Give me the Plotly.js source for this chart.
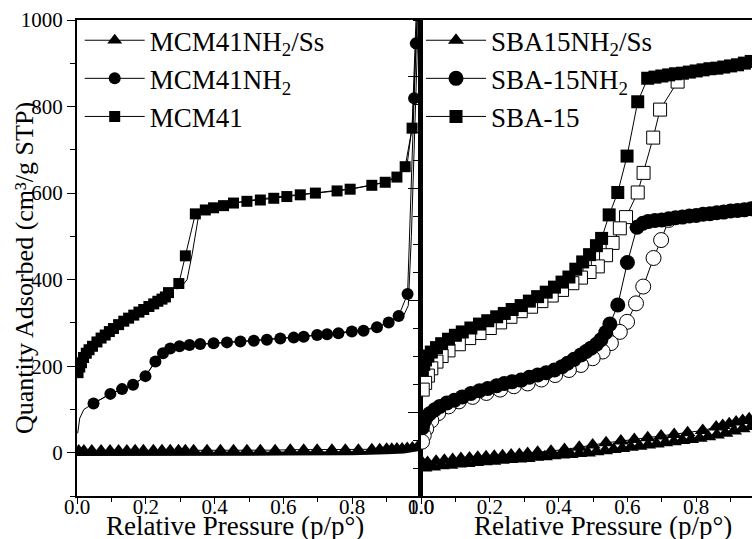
<!DOCTYPE html>
<html><head><meta charset="utf-8">
<script src="https://cdn.plot.ly/plotly-3.0.1.min.js"></script>
<style>html,body{margin:0;padding:0;background:#fff}#chart{width:752px;height:539px}</style>
</head><body><div id="chart"></div>
<script>
// ---------- Left panel: MCM41 series ----------
const mcmP = [0.003,0.008,0.013,0.019,0.027,0.035,0.045,0.058,0.07,0.082,0.094,0.106,0.121,0.136,0.15,0.165,0.18,0.194,0.209,0.223,0.235,0.247,0.257,0.266,0.296,0.315,0.344,0.373,0.397,0.426,0.455,0.494,0.533,0.572,0.61,0.649,0.693,0.756,0.794,0.857,0.896,0.93,0.954,0.974,0.99];
const mcmV = [185,198,208,220,230,238,246,256,265,272,280,287,296,304,311,318,325,331,338,344,350,355,360,370,391,455,552,561,566,571,577,581,584,588,592,596,600,605,609,618,625,637,661,750,1100];
const mcmDesP = [0.995,0.975,0.96,0.93,0.9,0.86,0.8,0.75,0.7,0.6,0.5,0.43,0.38,0.355,0.335,0.32,0.305,0.29];
const mcmDesV = [1100,760,668,640,626,619,610,606,601,593,583,573,563,555,460,400,385,378];

const nh2P = [0.048,0.097,0.131,0.163,0.199,0.228,0.25,0.271,0.298,0.327,0.358,0.397,0.436,0.475,0.514,0.552,0.591,0.63,0.659,0.698,0.727,0.76,0.799,0.833,0.872,0.906,0.935,0.961,0.98,0.985,0.995];
const nh2V = [114,136,147,157,177,211,230,241,246,249,251,253,255,257,259,261,264,266,268,272,274,276,280,282,290,301,316,367,819,946,1150];
const nh2DesP = [0.998,0.99,0.982,0.972,0.963,0.95,0.93,0.9,0.85,0.8,0.7,0.6,0.5,0.4,0.3,0.27,0.25,0.228,0.199,0.163,0.131,0.097,0.048,0.02,0.008,0.002];
const nh2DesV = [1150,950,760,500,340,318,311,298,287,281,272,265,258,253,246,240,230,211,177,157,147,136,114,100,80,45];

const ssP = [0.005,0.02,0.043,0.07,0.096,0.121,0.145,0.169,0.193,0.222,0.247,0.271,0.295,0.315,0.339,0.378,0.417,0.455,0.494,0.533,0.576,0.62,0.659,0.698,0.741,0.78,0.818,0.857,0.88,0.9,0.915,0.93,0.945,0.96,0.975,0.99,1.0];
const ssV = [5,5,5,5,5,5,5,6,6,6,6,6,6,6,6,6,6,6,6,6,6,7,7,7,7,7,7,8,8,9,9,10,10,11,12,14,15];
const ssDesP = [1.0,0.97,0.95,0.9,0.8,0.6,0.4,0.2,0.05,0.0];
const ssDesV = [9,5,3,1,-1,-2,-2,-3,-3,-3];

// ---------- Right panel: SBA-15 series ----------
const sbaP = [0.004,0.008,0.013,0.02,0.03,0.045,0.06,0.08,0.1,0.12,0.145,0.17,0.194,0.22,0.242,0.265,0.291,0.315,0.339,0.364,0.388,0.41,0.43,0.45,0.47,0.49,0.51,0.525,0.547,0.572,0.599,0.63,0.659,0.68,0.7,0.72,0.74,0.76,0.78,0.8,0.82,0.84,0.86,0.88,0.9,0.92,0.94,0.96];
const sbaV = [175,185,193,200,207,215,222,230,237,243,250,257,263,270,276,283,290,298,306,314,323,332,341,355,368,381,397,410,452,492,557,654,696,698,700,702,704,705,707,709,711,713,714,716,718,720,723,726];
const sbaDesP = [0.746,0.695,0.675,0.647,0.63,0.596,0.578,0.557,0.538,0.514,0.49,0.465,0.44,0.41,0.38,0.35,0.32,0.29,0.26,0.23,0.2,0.17,0.14,0.11,0.08,0.06,0.045,0.03,0.02,0.012,0.005];
const sbaDesV = [690,640,590,527,492,448,428,402,380,360,350,340,330,318,308,298,288,280,270,260,250,241,232,221,210,200,190,178,165,152,140];

const snP = [0.004,0.008,0.015,0.025,0.04,0.055,0.075,0.097,0.12,0.145,0.17,0.194,0.22,0.242,0.265,0.291,0.315,0.339,0.364,0.388,0.41,0.426,0.445,0.465,0.48,0.494,0.51,0.523,0.537,0.549,0.572,0.6,0.628,0.645,0.66,0.68,0.7,0.72,0.74,0.76,0.78,0.8,0.82,0.84,0.86,0.88,0.9,0.92,0.94,0.96];
const snV = [72,82,90,97,104,110,116,121,127,133,138,142,147,151,154,157,162,166,170,175,181,187,194,202,208,214,221,229,242,257,291,367,430,437,440,442,443,445,447,448,450,451,453,454,456,457,459,460,461,463];
const snDesP = [0.72,0.698,0.676,0.646,0.625,0.599,0.578,0.552,0.528,0.499,0.465,0.43,0.39,0.35,0.31,0.27,0.23,0.19,0.15,0.11,0.08,0.05,0.03,0.015,0.008,0.003];
const snDesV = [443,407,375,324,294,261,243,223,208,196,184,175,166,158,151,146,140,134,127,119,110,98,85,70,58,47];

const sbSsP = [0.005,0.019,0.044,0.068,0.092,0.116,0.141,0.165,0.189,0.213,0.237,0.262,0.286,0.31,0.339,0.378,0.417,0.46,0.499,0.538,0.581,0.62,0.659,0.698,0.736,0.775,0.819,0.858,0.877,0.896,0.916,0.935,0.954];
const sbSsV = [9,10,12,14,15,17,18,19,20,21,22,23,24,26,28,30,33,37,41,45,48,51,54,57,60,63,67,73,76,79,82,85,88];
const sbSsDesP = [0.96,0.935,0.91,0.885,0.86,0.835,0.81,0.785,0.76,0.735,0.71,0.685,0.66,0.635,0.61,0.585,0.56,0.535,0.51,0.485,0.46,0.435,0.41,0.385,0.36,0.335,0.31,0.285,0.26,0.235,0.21,0.185,0.16,0.135,0.11,0.085,0.06,0.035,0.01];
const sbSsDesV = [74,70,66,62,59,56,53,51,49,47,45,43,41,39,37,35,33,31,29,27,26,24,23,22,20,19,17,16,15,14,12,11,10,8,7,5,4,2,0];

// ---------- tick labels ----------
const xTickVals = [0,0.2,0.4,0.6,0.8,1.0];
const xTickText = ['0.0','0.2','0.4','0.6','0.8','1.0'];
const yTickVals = [0,200,400,600,800,1000];
const yTickText = ['0','200','400','600','800','1000'];

const names = {
  mcmSs: 'MCM41NH<sub>2</sub>/Ss', mcmNh2: 'MCM41NH<sub>2</sub>', mcm: 'MCM41',
  sbaSs: 'SBA15NH<sub>2</sub>/Ss', sbaNh2: 'SBA-15NH<sub>2</sub>', sba: 'SBA-15'
};

const FONT = '"Times New Roman", "Liberation Serif", "DejaVu Serif", serif';
const K = '#000';
const thin = {color: K, width: 1};

function filled(sym, size) { return {symbol: sym, size: size, color: K, line: {color: K, width: 0}}; }
function open(sym, size) { return {symbol: sym, size: size, color: '#fff', line: {color: K, width: 1}}; }

const traces = [
  // left panel
  {x: ssDesP, y: ssDesV, xaxis: 'x', yaxis: 'y', mode: 'lines', line: {color: K, width: 4}, showlegend: false, hoverinfo: 'skip'},
  {x: ssP, y: ssV, xaxis: 'x', yaxis: 'y', mode: 'lines+markers', line: thin, marker: filled('triangle-up', 13), name: names.mcmSs, legend: 'legend', legendrank: 1},
  {x: nh2DesP, y: nh2DesV, xaxis: 'x', yaxis: 'y', mode: 'lines', line: thin, showlegend: false, hoverinfo: 'skip'},
  {x: nh2P, y: nh2V, xaxis: 'x', yaxis: 'y', mode: 'lines+markers', line: thin, marker: filled('circle', 12), name: names.mcmNh2, legend: 'legend', legendrank: 2},
  {x: mcmDesP, y: mcmDesV, xaxis: 'x', yaxis: 'y', mode: 'lines', line: thin, showlegend: false, hoverinfo: 'skip'},
  {x: mcmP, y: mcmV, xaxis: 'x', yaxis: 'y', mode: 'lines+markers', line: thin, marker: filled('square', 11), name: names.mcm, legend: 'legend', legendrank: 3},
  // right panel
  {x: sbSsDesP, y: sbSsDesV, xaxis: 'x2', yaxis: 'y2', mode: 'lines+markers', line: thin, marker: filled('triangle-up', 14), showlegend: false, hoverinfo: 'skip'},
  {x: sbSsP, y: sbSsV, xaxis: 'x2', yaxis: 'y2', mode: 'lines+markers', line: thin, marker: filled('triangle-up', 14), name: names.sbaSs, legend: 'legend2', legendrank: 1},
  {x: snDesP, y: snDesV, xaxis: 'x2', yaxis: 'y2', mode: 'lines+markers', line: thin, marker: open('circle', 15), showlegend: false, hoverinfo: 'skip'},
  {x: snP, y: snV, xaxis: 'x2', yaxis: 'y2', mode: 'lines+markers', line: thin, marker: filled('circle', 15), name: names.sbaNh2, legend: 'legend2', legendrank: 2},
  {x: sbaDesP, y: sbaDesV, xaxis: 'x2', yaxis: 'y2', mode: 'lines+markers', line: thin, marker: open('square', 13), showlegend: false, hoverinfo: 'skip'},
  {x: sbaP, y: sbaV, xaxis: 'x2', yaxis: 'y2', mode: 'lines+markers', line: thin, marker: filled('square', 13), name: names.sba, legend: 'legend2', legendrank: 3}
];

const split = 344 / 675;
const tickFont = {family: FONT, size: 21, color: K};
const axBase = {showgrid: false, zeroline: false, showline: true, linecolor: K, linewidth: 2, ticks: 'outside', tickcolor: K, tickwidth: 1, tickfont: tickFont};

const legendBase = {font: {family: FONT, size: 27, color: K}, bgcolor: 'rgba(0,0,0,0)', borderwidth: 0, traceorder: 'normal', itemwidth: 60, tracegroupgap: 0, xanchor: 'left', yanchor: 'top', itemclick: false, itemdoubleclick: false};

const layout = {
  width: 752, height: 539,
  margin: {l: 77, r: 0, t: 20, b: 43, pad: 0},
  paper_bgcolor: '#fff', plot_bgcolor: '#fff',
  font: {family: FONT, color: K},
  xaxis: Object.assign({}, axBase, {domain: [0, split], range: [0, 1.0], tickvals: xTickVals, ticktext: xTickText, ticklen: 6, mirror: true, anchor: 'y', ticklabelstandoff: -15,
    minor: {dtick: 0.1, ticks: 'outside', ticklen: 4, tickcolor: K, tickwidth: 1, showgrid: false}}),
  yaxis: Object.assign({}, axBase, {range: [-100, 1000], tickvals: yTickVals, ticktext: yTickText, ticklen: 8, mirror: true, anchor: 'x',
    minor: {dtick: 100, tick0: 0, ticks: 'outside', ticklen: 5, tickcolor: K, tickwidth: 1, showgrid: false}}),
  xaxis2: Object.assign({}, axBase, {domain: [split, 1], range: [0, 331 / 344], tickvals: xTickVals, ticktext: xTickText, ticklen: 4, mirror: true, anchor: 'y2', ticklabelstandoff: -13,
    minor: {dtick: 0.1, ticks: 'outside', ticklen: 4, tickcolor: K, tickwidth: 1, showgrid: false}}),
  yaxis2: Object.assign({}, axBase, {range: [-50, 800], tick0: 100, dtick: 200, ticklen: 10, showticklabels: false, mirror: false, anchor: 'x2', linewidth: 3,
    minor: {dtick: 50, tick0: 0, ticks: 'outside', ticklen: 5, tickcolor: K, tickwidth: 1, showgrid: false}}),
  legend: Object.assign({}, legendBase, {x: 0.004, y: 1.008}),
  legend2: Object.assign({}, legendBase, {x: split, y: 1.008}),
  showlegend: true,
  annotations: [
    {text: 'Relative Pressure (p/p°)', xref: 'paper', yref: 'paper', x: (235 - 77) / 675, y: (496 - 526) / 476, xanchor: 'center', yanchor: 'middle', showarrow: false, font: {family: FONT, size: 27, color: K}},
    {text: 'Relative Pressure (p/p°)', xref: 'paper', yref: 'paper', x: (603 - 77) / 675, y: (496 - 526) / 476, xanchor: 'center', yanchor: 'middle', showarrow: false, font: {family: FONT, size: 27, color: K}},
    {text: 'Quantity Adsorbed (cm³/g STP)', xref: 'paper', yref: 'paper', x: (24 - 77) / 675, y: (496 - 268) / 476, xanchor: 'center', yanchor: 'middle', textangle: -90, showarrow: false, font: {family: FONT, size: 26, color: K}}
  ]
};

Plotly.newPlot('chart', traces, layout, {staticPlot: true, displayModeBar: false});
</script></body></html>
